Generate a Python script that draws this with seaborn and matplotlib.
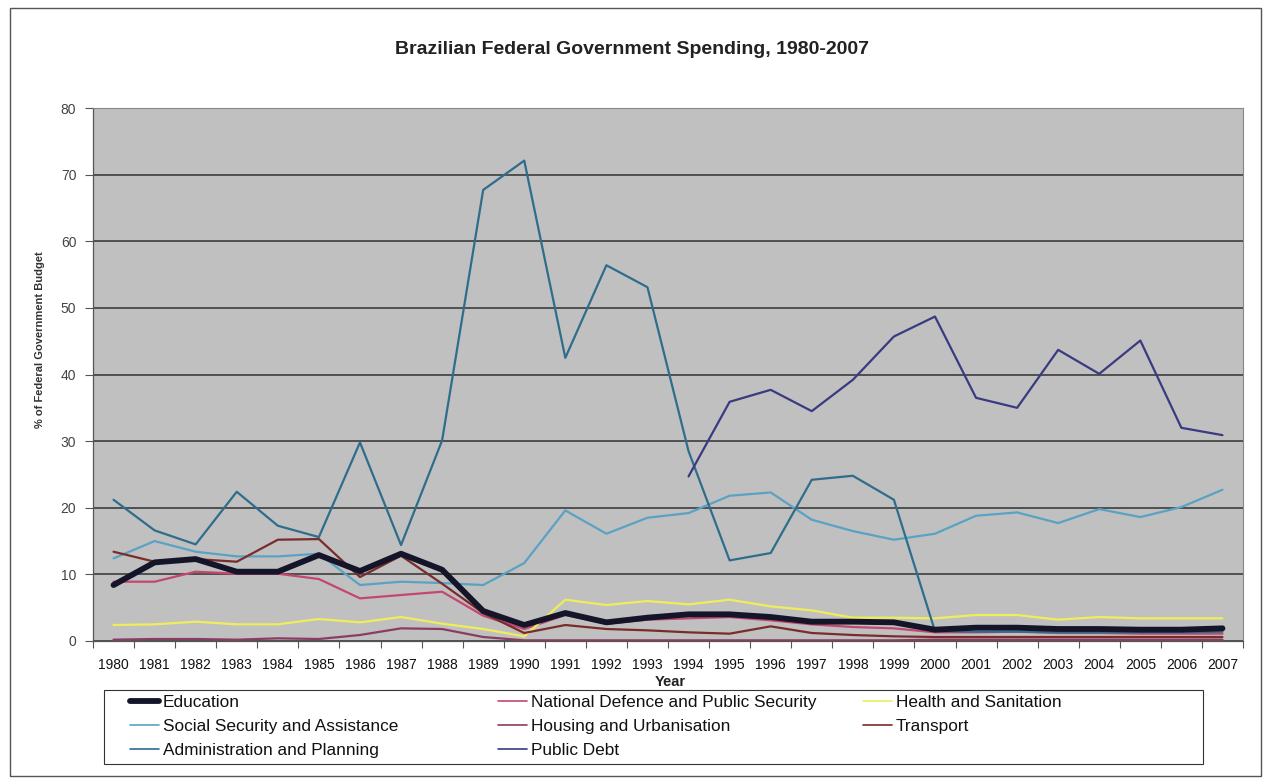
import numpy as np
import pandas as pd
import matplotlib
matplotlib.use("Agg")
import matplotlib.pyplot as plt
from matplotlib.lines import Line2D
from matplotlib.patches import Rectangle
import seaborn as sns

years = list(range(1980, 2008))

education = [8.4, 11.8, 12.3, 10.4, 10.4, 12.9, 10.5, 13.1, 10.7, 4.5, 2.4, 4.2, 2.8, 3.5, 4.0, 4.0, 3.6, 2.9, 2.9, 2.8, 1.7,
             2.0, 2.0, 1.8, 1.8, 1.7, 1.7, 1.9]
national_defence = [8.9, 8.9, 10.4, 10.1, 10.1, 9.3, 6.4, 6.9, 7.4, 3.8, 1.8, 3.9, 2.6, 3.2, 3.4, 3.6, 3.1, 2.5, 2.1, 1.9,
                    1.3, 1.3, 1.4, 1.2, 1.2, 1.1, 1.1, 1.1]
health = [2.4, 2.5, 2.9, 2.5, 2.5, 3.3, 2.8, 3.6, 2.6, 1.8, 0.7, 6.2, 5.4, 6.0, 5.5, 6.2, 5.2, 4.6, 3.5, 3.5, 3.4,
          3.9, 3.9, 3.2, 3.6, 3.4, 3.4, 3.4]
social_security = [12.4, 15.0, 13.4, 12.7, 12.7, 13.1, 8.4, 8.9, 8.7, 8.4, 11.7, 19.6, 16.1, 18.5, 19.2, 21.8, 22.3,
                   18.2, 16.5, 15.2, 16.1, 18.8, 19.3, 17.7, 19.8, 18.6, 20.1, 22.7]
housing = [0.2, 0.3, 0.3, 0.2, 0.4, 0.3, 0.9, 1.9, 1.8, 0.6, 0.1, 0.1, 0.1, 0.1, 0.1, 0.1, 0.1, 0.1, 0.1, 0.1,
           0.2, 0.2, 0.2, 0.2, 0.2, 0.2, 0.2, 0.2]
transport = [13.4, 11.9, 12.3, 11.9, 15.2, 15.3, 9.6, 12.8, 8.6, 4.2, 1.2, 2.4, 1.8, 1.6, 1.3, 1.1, 2.2, 1.2, 0.9, 0.7,
             0.6, 0.6, 0.6, 0.6, 0.6, 0.6, 0.6, 0.6]
administration = [21.2, 16.6, 14.5, 22.4, 17.3, 15.6, 29.8, 14.4, 30.1, 67.7, 72.1, 42.5, 56.4, 53.1, 28.5, 12.1,
                  13.2, 24.2, 24.8, 21.2, 1.5, 1.4, 1.4, 1.3, 1.3, 1.3, 1.3, 1.4]
public_debt = [np.nan] * 14 + [24.7, 35.9, 37.7, 34.5, 39.2, 45.7, 48.7, 36.5, 35.0, 43.7, 40.1, 45.1, 32.0, 30.9]

series_names = ["Education", "National Defence and Public Security", "Health and Sanitation",
                "Social Security and Assistance", "Housing and Urbanisation", "Transport",
                "Administration and Planning", "Public Debt"]
series_values = [education, national_defence, health, social_security, housing, transport,
                 administration, public_debt]

colors = {
    "Education": "#15152a",
    "National Defence and Public Security": "#c4476f",
    "Health and Sanitation": "#eeee5a",
    "Social Security and Assistance": "#5aa2c4",
    "Housing and Urbanisation": "#8a3d63",
    "Transport": "#7a2c2c",
    "Administration and Planning": "#2f6d8c",
    "Public Debt": "#3a3a82",
}
widths = {name: 1.6 for name in series_names}
widths["Education"] = 4.2

df = pd.DataFrame({"Year": years})
for name, vals in zip(series_names, series_values):
    df[name] = vals
long = df.melt(id_vars="Year", var_name="Category", value_name="Value").dropna()

sns.set_theme(style="white")
plt.rcParams["font.family"] = ["Liberation Sans", "DejaVu Sans"]

W, H = 1265, 778
fig = plt.figure(figsize=(W / 100, H / 100), dpi=100)
ax = fig.add_axes([93 / W, 1 - 641 / H, 1150 / W, 533 / H])
ax.set_facecolor("#c0c0c0")

zorders = {name: 3 for name in series_names}
zorders["Education"] = 4
for name in series_names:
    sub = long[long["Category"] == name]
    sns.lineplot(data=sub, x="Year", y="Value", color=colors[name], linewidth=widths[name],
                 ax=ax, legend=False, zorder=zorders[name], estimator=None)

ax.set_xlim(1979.5, 2007.5)
ax.set_ylim(0, 80)
ax.set_yticks(range(0, 81, 10))
ax.yaxis.grid(True, color="#3c3c3c", linewidth=1.2)
ax.set_axisbelow(True)
ax.set_xticks(years)
ax.set_xticklabels([str(y) for y in years], fontsize=10, color="#111111")
ax.set_xticks(np.arange(1979.5, 2008, 1.0), minor=True)
ax.tick_params(axis="x", which="major", length=0, pad=12)
ax.tick_params(axis="x", which="minor", length=5, width=0.8, color="#555555", direction="out")
ax.tick_params(axis="y", length=6, width=0.8, color="#555555", direction="out", labelsize=10,
               labelcolor="#444444", pad=6)
ax.tick_params(left=True, bottom=True, which="both")

for side in ["top", "right"]:
    ax.spines[side].set_color("#888888")
    ax.spines[side].set_linewidth(0.8)
for side in ["left", "bottom"]:
    ax.spines[side].set_color("#555555")
    ax.spines[side].set_linewidth(0.9)

ax.set_xlabel("Year", fontsize=10.5, fontweight="bold", color="#222222")
ax.xaxis.set_label_coords((670 - 93) / 1150, -(675 - 641) / 533)
ax.set_ylabel("% of Federal Government Budget", fontsize=8, fontweight="bold", color="#333333")
ax.yaxis.set_label_coords((45 - 93) / 1150, (641 - 340) / 533)

fig.text(632 / W, 1 - 50 / H, "Brazilian Federal Government Spending, 1980-2007",
         ha="center", va="center", fontsize=14, fontweight="bold", color="#222222")

# Outer chart frame
fig.patches.append(Rectangle((10 / W, 2 / H), 1251 / W, 768 / H,
                             transform=fig.transFigure, fill=False,
                             edgecolor="#555555", linewidth=1.0))

# Legend box with three columns, filled row by row
fig.patches.append(Rectangle((104 / W, 1 - 764 / H), 1099 / W, 74 / H,
                             transform=fig.transFigure, fill=True, facecolor="white",
                             edgecolor="#333333", linewidth=0.8, zorder=5))
legend_columns = [
    (130, ["Education", "Social Security and Assistance", "Administration and Planning"]),
    (498, ["National Defence and Public Security", "Housing and Urbanisation", "Public Debt"]),
    (863, ["Health and Sanitation", "Transport"]),
]
for x0, names in legend_columns:
    handles = [Line2D([], [], color=colors[n], linewidth=(4.2 if n == "Education" else 1.2))
               for n in names]
    leg = fig.legend(handles, names, loc="upper left",
                     bbox_to_anchor=(x0 / W, 1 - 695 / H),
                     fontsize=12.4, frameon=False, handlelength=1.7, handletextpad=0.2,
                     labelspacing=0.52, borderpad=0, borderaxespad=0)
    leg.set_zorder(6)
    for t in leg.get_texts():
        t.set_color("#111111")

fig.savefig("out.png", dpi=100, facecolor="white")
